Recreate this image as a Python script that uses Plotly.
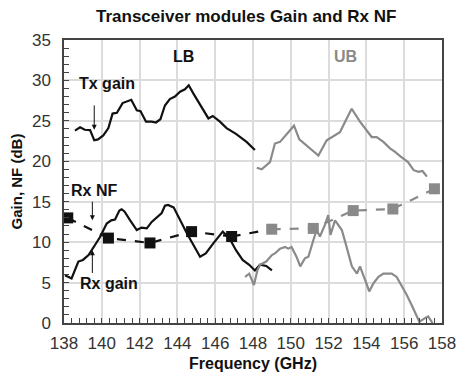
import plotly.graph_objects as go

# Tx gain, low band (black)
tx_lb_f = [138.58, 138.85, 139.1, 139.38, 139.6, 139.8, 140.08, 140.35, 140.57, 140.8,
           141.1, 141.35, 141.56, 141.85, 142.05, 142.34, 142.64, 142.87, 143.1, 143.34,
           143.6, 143.87, 144.14, 144.4, 144.6, 144.84, 145.1, 145.37, 145.64, 145.87,
           146.08, 146.25, 146.6, 147.1, 147.66, 148.1]
tx_lb_g = [23.8, 24.2, 23.9, 23.85, 22.6, 22.7, 23.2, 24.1, 25.9, 26.0,
           27.2, 27.4, 27.6, 26.3, 26.2, 24.9, 24.9, 24.8, 25.2, 26.9,
           27.7, 28.0, 28.6, 28.9, 29.4, 28.4, 27.4, 26.5, 25.3, 25.6,
           25.2, 24.9, 24.1, 23.4, 22.4, 21.4]

# Tx gain, upper band (grey)
tx_ub_f = [148.2, 148.46, 148.9, 149.16, 149.43, 149.78, 150.17, 150.45, 150.84, 151.2,
           151.46, 151.9, 152.34, 152.6, 152.9, 153.22, 153.66, 154.0, 154.28, 154.54,
           154.9, 155.25, 155.5, 155.8, 156.05, 156.2, 156.5, 156.76, 156.97, 157.2]
tx_ub_g = [19.2, 19.0, 19.9, 22.2, 22.4, 23.4, 24.4, 22.7, 21.9, 21.2,
           20.7, 22.6, 23.2, 23.6, 25.0, 26.5, 24.9, 23.9, 23.0, 23.0,
           22.4, 21.6, 21.2, 20.6, 20.1, 19.9, 18.9, 18.7, 18.8, 18.1]

# Rx gain, low band (black)
rx_lb_f = [138.05, 138.4, 138.76, 139.0, 139.3, 139.46, 139.65, 139.9, 140.26, 140.5,
           140.7, 140.93, 141.05, 141.2, 141.5, 141.85, 142.1, 142.38, 142.64, 142.9,
           143.17, 143.34, 143.5, 143.8, 144.05, 144.3, 144.5, 145.2, 145.5, 145.9,
           146.2, 146.4, 146.75, 147.1, 147.45, 147.8, 148.1, 148.37, 148.7, 149.0]
rx_lb_g = [5.9, 5.5, 7.6, 7.8, 8.4, 9.0, 9.6, 10.6, 12.3, 12.7,
           12.8, 13.9, 14.05, 13.8, 12.7, 11.5, 11.8, 11.7, 12.5, 13.1,
           13.6, 14.5, 14.6, 14.3, 13.1, 11.9, 11.1, 8.2, 8.6, 9.85,
           10.7, 11.3, 10.5, 9.0, 7.8, 7.2, 6.5, 7.2, 7.05, 6.5]

# Rx gain, upper band (grey)
rx_ub_f = [147.58, 147.8, 148.05, 148.23, 148.37, 148.7, 149.0, 149.16, 149.43, 149.7,
           149.87, 150.04, 150.3, 150.5, 150.75, 150.93, 151.2, 151.37, 151.54, 151.8,
           151.98, 152.1, 152.34, 152.5, 152.7, 152.9, 153.05, 153.23, 153.5, 153.66,
           154.0, 154.15, 154.37, 154.64, 154.9, 155.34, 155.6, 155.86, 156.13, 156.4,
           156.66, 156.8, 157.1, 157.27, 157.5]
rx_ub_g = [5.7, 6.1, 4.7, 6.5, 7.2, 7.6, 8.4, 8.6, 9.2, 9.4,
           9.2, 9.4, 8.2, 7.0, 8.0, 8.2, 10.3, 11.5, 10.7, 12.1,
           13.35, 10.9, 12.7, 12.1, 11.5, 9.85, 8.6, 7.0, 6.1, 7.0,
           4.9, 3.9, 4.9, 5.7, 6.1, 6.1, 5.7, 4.7, 3.5, 2.2,
           0.8, 0.15, 0.6, 0.8, 0.0]

# Rx noise figure, measured points
nf_lb_f = [138.2, 140.35, 142.55, 144.75, 146.87]
nf_lb_v = [13.0, 10.5, 9.9, 11.3, 10.7]
nf_ub_f = [148.99, 151.19, 153.3, 155.4, 157.6]
nf_ub_v = [11.6, 11.7, 13.9, 14.1, 16.6]

BLACK = "#111111"
GREY = "#8a8a8a"
NARROW = "Liberation Sans Narrow, Arial Narrow, Liberation Sans, Arial, sans-serif"
WIDE = "Liberation Sans, Arial, sans-serif"

fig = go.Figure()

line_w = 2.2
fig.add_trace(go.Scatter(x=tx_lb_f, y=tx_lb_g, mode="lines",
                         line=dict(color=BLACK, width=line_w)))
fig.add_trace(go.Scatter(x=tx_ub_f, y=tx_ub_g, mode="lines",
                         line=dict(color=GREY, width=line_w)))
fig.add_trace(go.Scatter(x=rx_lb_f, y=rx_lb_g, mode="lines",
                         line=dict(color=BLACK, width=line_w)))
fig.add_trace(go.Scatter(x=rx_ub_f, y=rx_ub_g, mode="lines",
                         line=dict(color=GREY, width=line_w)))
# dashed link from the last low-band NF point to the first upper-band point
fig.add_trace(go.Scatter(x=[nf_lb_f[-1], nf_ub_f[0]], y=[nf_lb_v[-1], nf_ub_v[0]],
                         mode="lines", line=dict(color=BLACK, width=line_w, dash="dash")))
fig.add_trace(go.Scatter(x=nf_ub_f, y=nf_ub_v, mode="lines+markers",
                         line=dict(color=GREY, width=line_w, dash="dash"),
                         marker=dict(symbol="square", size=11, color=GREY)))
fig.add_trace(go.Scatter(x=nf_lb_f, y=nf_lb_v, mode="lines+markers",
                         line=dict(color=BLACK, width=line_w, dash="dash"),
                         marker=dict(symbol="square", size=11, color=BLACK)))

ann_font = dict(family=NARROW, size=16, color=BLACK, weight="bold")
annotations = [
    dict(x=144.3, y=33.0, text="LB", showarrow=False, font=ann_font),
    dict(x=152.9, y=33.0, text="UB", showarrow=False,
         font=dict(family=NARROW, size=16, color=GREY, weight="bold")),
    dict(x=140.3, y=29.6, text="Tx gain", showarrow=False, font=ann_font),
    dict(x=139.6, y=16.4, text="Rx NF", showarrow=False, font=ann_font),
    dict(x=140.4, y=4.9, text="Rx gain", showarrow=False, font=ann_font),
    # arrows
    dict(x=139.6, y=23.9, ax=139.6, ay=27.1, xref="x", yref="y", axref="x", ayref="y",
         text="", showarrow=True, arrowhead=2, arrowsize=1, arrowwidth=1, arrowcolor=BLACK),
    dict(x=139.5, y=12.7, ax=139.5, ay=15.2, xref="x", yref="y", axref="x", ayref="y",
         text="", showarrow=True, arrowhead=2, arrowsize=1, arrowwidth=1, arrowcolor=BLACK),
    dict(x=139.5, y=9.0, ax=139.5, ay=6.0, xref="x", yref="y", axref="x", ayref="y",
         text="", showarrow=True, arrowhead=2, arrowsize=1, arrowwidth=1, arrowcolor=BLACK),
]

axis_font = dict(family=NARROW, size=17, color="#333333")
fig.update_layout(
    width=456, height=377,
    margin=dict(l=64, r=14, t=40, b=54),
    paper_bgcolor="white", plot_bgcolor="white",
    showlegend=False,
    title=dict(text="Transceiver modules Gain and Rx NF", x=0.54, xanchor="center",
               y=0.957, yanchor="middle",
               font=dict(family=WIDE, size=17, color=BLACK, weight="bold")),
    annotations=annotations,
    xaxis=dict(range=[138, 158], dtick=2, tick0=138, showgrid=True, gridcolor="#dcdcdc",
               gridwidth=1.5, showline=True, linecolor="#444444", linewidth=1.5, mirror=True,
               ticks="inside", ticklen=5, tickcolor="#444444", tickfont=axis_font,
               ticklabelstandoff=4, ticklabeloverflow="allow", automargin=False,
               minor=dict(dtick=0.4, ticks="inside", ticklen=5, tickcolor="#444444", showgrid=False),
               zeroline=False,
               title=dict(text="Frequency (GHz)", standoff=6,
                          font=dict(family=NARROW, size=16, color=BLACK, weight="bold"))),
    yaxis=dict(range=[0, 35], dtick=5, showgrid=True, gridcolor="#dcdcdc", gridwidth=1.5,
               showline=True, linecolor="#444444", linewidth=1.5, mirror=True,
               ticks="inside", ticklen=5, tickcolor="#444444", tickfont=axis_font,
               ticklabelstandoff=8, automargin=False,
               minor=dict(dtick=1, ticks="inside", ticklen=5, tickcolor="#444444", showgrid=False),
               zeroline=False,
               title=dict(text="Gain, NF (dB)", standoff=6,
                          font=dict(family=NARROW, size=15, color=BLACK, weight="bold"))),
)

fig.write_html("out.html")
